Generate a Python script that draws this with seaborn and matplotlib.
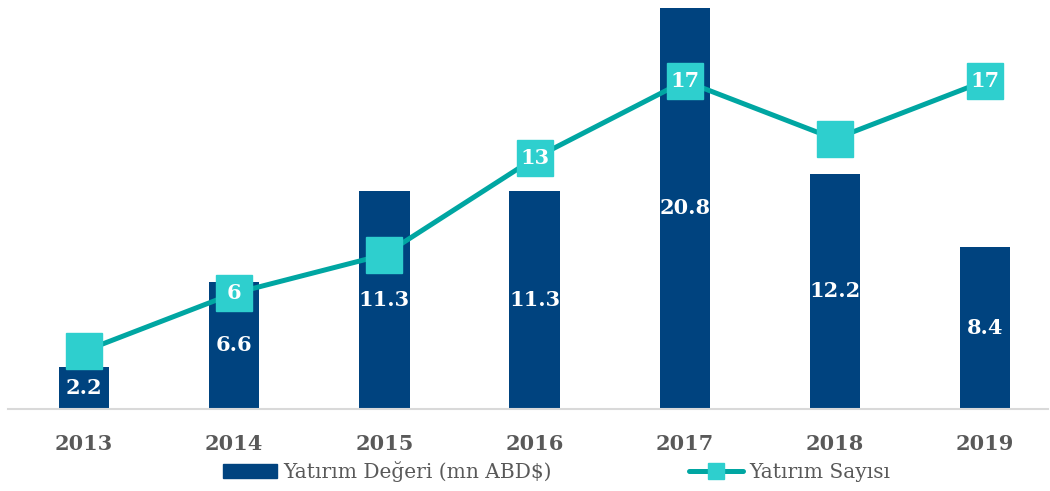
import numpy as np
import pandas as pd
import matplotlib
matplotlib.use("Agg")
import matplotlib.pyplot as plt
import seaborn as sns
from matplotlib.lines import Line2D
from matplotlib.patches import Patch

years = ["2013", "2014", "2015", "2016", "2017", "2018", "2019"]
deger = [2.2, 6.6, 11.3, 11.3, 20.8, 12.2, 8.4]
sayi = [3, 6, 8, 13, 17, 14, 17]
sayi_labels = ["", "6", "", "13", "17", "", "17"]

bar_color = "#00437F"
line_color = "#00A6A2"
marker_color = "#2ECFCE"
text_gray = "#595959"

sns.set_theme(style="white")
plt.rcParams["font.family"] = ["DejaVu Serif"]

df = pd.DataFrame({"yil": years, "deger": deger, "sayi": sayi})

fig = plt.figure(figsize=(10.5, 4.91), dpi=100)
ax = fig.add_axes([8 / 1050, 82 / 491, 1040 / 1050, 409 / 491])

sns.barplot(data=df, x="yil", y="deger", color=bar_color, width=0.335,
            saturation=1, linewidth=0, ax=ax)
x = np.arange(len(years))
ax.plot(x, sayi, color=line_color, lw=3.6, marker="s", ms=26,
        mfc=marker_color, mec=marker_color, zorder=5)

# bar values, middle of each bar
for i, v in enumerate(deger):
    ax.text(i, v / 2, f"{v}", ha="center", va="center", color="white",
            fontsize=15, fontweight="bold", zorder=6)
for i, (v, lab) in enumerate(zip(sayi, sayi_labels)):
    if lab:
        ax.text(i, v, lab, ha="center", va="center", color="white",
                fontsize=15, fontweight="bold", zorder=7)

ax.set_xlim(-76 / 150, 6 + 63 / 150)
ax.set_ylim(0, 21.2)
ax.set_yticks([])
ax.set_xlabel("")
ax.set_ylabel("")
for s in ["top", "right", "left"]:
    ax.spines[s].set_visible(False)
ax.spines["bottom"].set_color("#D9D9D9")
ax.spines["bottom"].set_linewidth(1.5)
ax.tick_params(axis="x", length=0, pad=18, labelsize=15, labelcolor=text_gray)
for t in ax.get_xticklabels():
    t.set_fontweight("bold")

handles = [Patch(color=bar_color),
           Line2D([0], [0], color=line_color, lw=3.6, marker="s", ms=11,
                  mfc=marker_color, mec=marker_color)]
fig.legend(handles, ["Yatırım Değeri (mn ABD$)", "Yatırım Sayısı"],
           loc="center", bbox_to_anchor=(0.53, 0.04), ncol=2, frameon=False,
           fontsize=14.5, labelcolor=text_gray, handlelength=2.7,
           handleheight=0.7, handletextpad=0.3, columnspacing=6.8)

fig.savefig("out.png", dpi=100)
